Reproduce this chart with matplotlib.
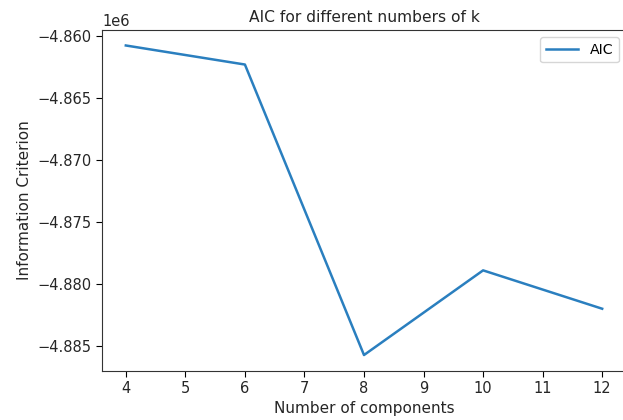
import matplotlib
matplotlib.use("Agg")
import matplotlib.pyplot as plt

components = [4, 6, 8, 10, 12]
aic = [-4.86073e6, -4.86227e6, -4.88574e6, -4.87890e6, -4.88200e6]
xticks = [4, 5, 6, 7, 8, 9, 10, 11, 12]

W, H = 623, 420
fig = plt.figure(figsize=(W / 100, H / 100), dpi=100)
ax = fig.add_axes([102 / W, 1 - 370.5 / H, (626 - 102) / W, (370.5 - 30) / H])
ax.plot(components, aic, color="#2a7fbf", lw=1.8, label="AIC")
ax.set_xticks(xticks)
ax.set_title("AIC for different numbers of k", fontsize=11.2, color="#262626")
ax.set_xlabel("Number of components", fontsize=11, color="#262626")
ax.set_ylabel("Information Criterion", fontsize=11, color="#262626")
ax.tick_params(labelsize=10.5, labelcolor="#262626", length=4)
ax.yaxis.get_offset_text().set_fontsize(10.5)
for s in ax.spines.values():
    s.set_color("#333333")
ax.legend(loc="upper right", fontsize=10.2, handlelength=2.3)
fig.savefig("out.png", dpi=100)
